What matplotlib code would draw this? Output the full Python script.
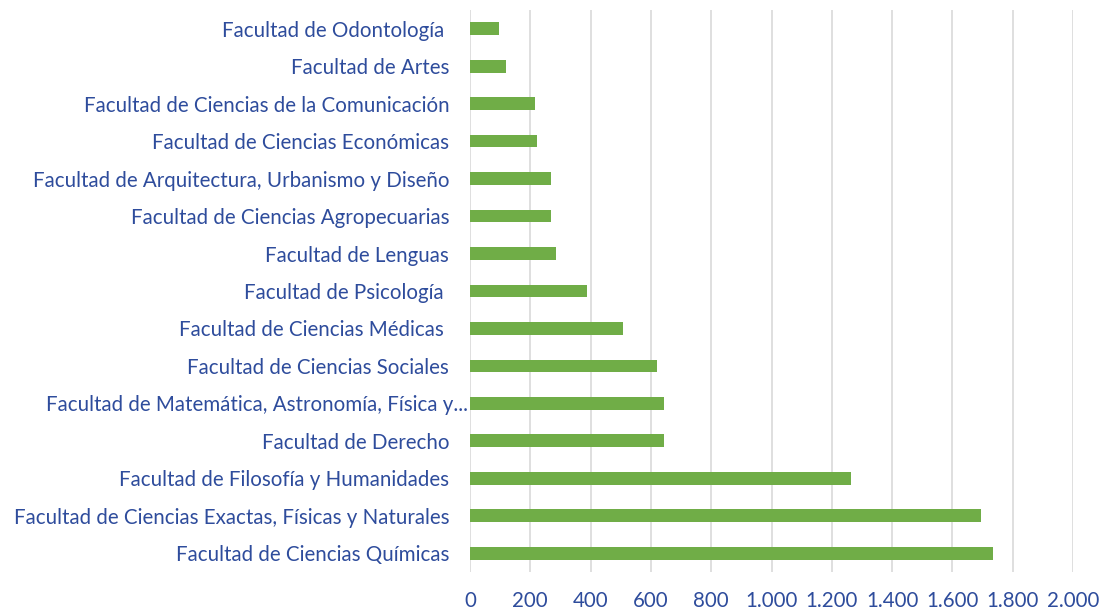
import matplotlib
matplotlib.use("Agg")
from matplotlib import pyplot as plt
from matplotlib import ticker, transforms

facultades = [
    "Facultad de Odontología ",
    "Facultad de Artes",
    "Facultad de Ciencias de la Comunicación",
    "Facultad de Ciencias Económicas",
    "Facultad de Arquitectura, Urbanismo y Diseño",
    "Facultad de Ciencias Agropecuarias",
    "Facultad de Lenguas",
    "Facultad de Psicología ",
    "Facultad de Ciencias Médicas ",
    "Facultad de Ciencias Sociales",
    "Facultad de Matemática, Astronomía, Física y...",
    "Facultad de Derecho",
    "Facultad de Filosofía y Humanidades",
    "Facultad de Ciencias Exactas, Físicas y Naturales",
    "Facultad de Ciencias Químicas",
]
valores = [96, 118, 217, 222, 270, 270, 285, 387, 509, 621, 644, 644, 1264, 1696, 1733]
xticks = [0, 200, 400, 600, 800, 1000, 1200, 1400, 1600, 1800, 2000]

azul = "#2E4C9C"
plt.rcParams['font.family'] = ['Lato', 'DejaVu Sans']

fig = plt.figure(figsize=(11.02, 6.13), dpi=100)
ax = fig.add_axes([0.4265, 0.0669, 0.5472, 0.9168])

pos = list(range(len(facultades)))
ax.barh(pos, valores, height=0.34, color="#70AD47", zorder=3)

ax.set_xlim(0, 2000)
ax.set_ylim(-0.5, len(facultades) - 0.5)
ax.invert_yaxis()
ax.set_xticks(xticks)
ax.xaxis.set_major_formatter(ticker.FuncFormatter(lambda v, p: f"{int(v):,}".replace(",", ".")))
ax.set_yticks(pos)
ax.set_yticklabels(facultades)

ax.grid(axis="x", color="#D9D9D9", linewidth=1.2, zorder=0)
for s in ax.spines.values():
    s.set_visible(False)
ax.tick_params(axis="both", length=0, colors=azul, labelsize=14.8)
ax.tick_params(axis="x", pad=14)
ax.tick_params(axis="y", pad=15)

# the truncated label sits further right in the original
lab = ax.get_yticklabels()[10]
lab.set_transform(lab.get_transform() + transforms.ScaledTranslation(0.19, 0, fig.dpi_scale_trans))

fig.savefig("out.png", dpi=100)
